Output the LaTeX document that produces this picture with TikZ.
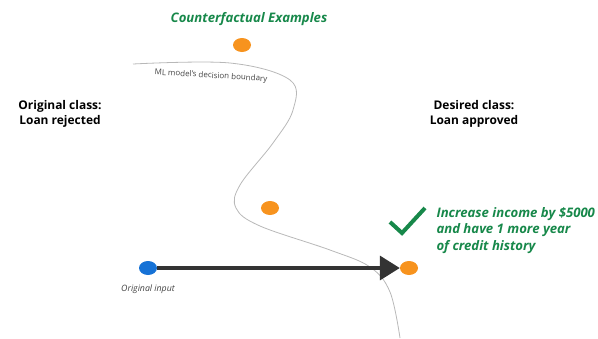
\documentclass[tikz,border=0pt]{standalone}
\usepackage{fontspec}
\setmainfont{Open Sans}
\usetikzlibrary{arrows.meta,shapes.geometric}
\definecolor{cfgreen}{HTML}{17884A}
\definecolor{dotorange}{HTML}{F7931E}
\definecolor{dotblue}{HTML}{1672D6}
\definecolor{arrowgray}{HTML}{333333}
\definecolor{curvegray}{HTML}{B8B8B8}
\definecolor{labelgray}{HTML}{444444}
\tikzset{
  dot/.style={ellipse, minimum width=18bp, minimum height=14bp, inner sep=0pt},
  orangedot/.style={dot, fill=dotorange},
  bluedot/.style={dot, fill=dotblue},
  classlabel/.style={font=\bfseries\fontsize{12}{15}\selectfont, align=center, text=black},
  greenlabel/.style={font=\bfseries\itshape\fontsize{13.2}{16.5}\selectfont, text=cfgreen},
  smalllabel/.style={font=\itshape\fontsize{8.8}{10}\selectfont, text=labelgray},
  boundary/.style={draw=curvegray, line width=0.8bp},
  moveto/.style={line width=3.6bp, draw=arrowgray, -{Triangle[length=20bp,width=24bp]}},
}
\begin{document}
\begin{tikzpicture}[x=1bp,y=-1bp]
  \useasboundingbox (0,0) rectangle (598,338);

  % decision boundary of the model
  \draw[boundary] plot[smooth, tension=0.6] coordinates
    {(133,64) (230,63) (290,80) (293,110) (273,143) (240,185) (236,208) (260,226) (330,250) (370,267) (390,292) (400,338)};
  \node[font=\fontsize{8}{9}\selectfont, text=labelgray, rotate=-3.5, anchor=center] (bnd) at (211,76) {ML model's decision boundary};

  % headings
  \node[greenlabel] (cfx) at (249,19) {Counterfactual Examples};
  \node[classlabel] (orig) at (60,114) {Original class:\\Loan rejected};
  \node[classlabel] (des) at (474,114) {Desired class:\\Loan approved};

  % points
  \node[orangedot] (cf1) at (242,45) {};
  \node[orangedot] (cf2) at (270,208) {};
  \node[orangedot] (cf3) at (409,268) {};
  \node[bluedot] (x0) at (148,268) {};
  \node[smalllabel] (x0lab) at (148,289) {Original input};

  % move from the original input to the counterfactual
  \draw[moveto] (x0.east) -- (cf3.west);

  % check mark and explanation
  \coordinate (ck1) at (390,222);
  \coordinate (ck2) at (402,233);
  \coordinate (ck3) at (425,208);
  \draw[draw=cfgreen, line width=4bp] (ck1) -- (ck2) -- (ck3);
  \node[greenlabel, align=left, anchor=north west] (expl) at (433,204)
    {Increase income by \$5000\\and have 1 more year\\of credit history};
\end{tikzpicture}
\end{document}
